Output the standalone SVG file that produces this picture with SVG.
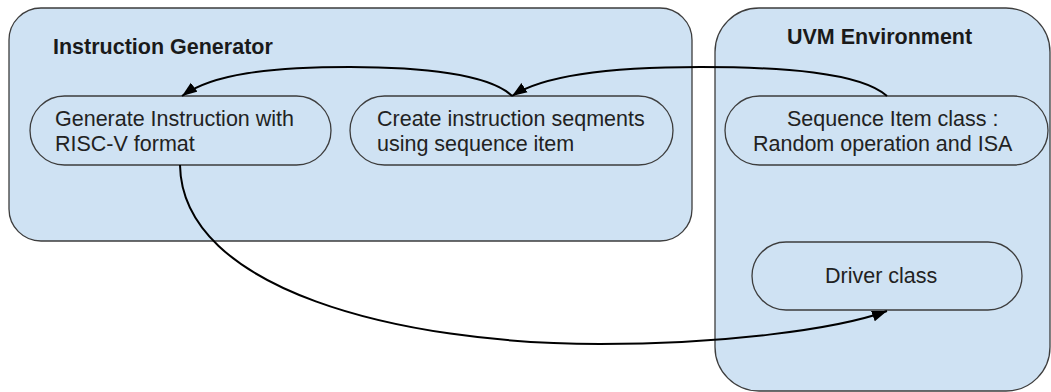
<svg xmlns="http://www.w3.org/2000/svg" width="1051" height="392" viewBox="0 0 1051 392">
  <style>
    .container { fill: #cfe2f3; stroke: #3d3d3d; stroke-width: 1.3; }
    .node { fill: #cfe2f3; stroke: #3d3d3d; stroke-width: 1.3; }
    .title { font-family: "Liberation Sans", Arial, sans-serif; font-size: 21.5px; font-weight: bold; fill: #1a1a1a; }
    .label { font-family: "Liberation Sans", Arial, sans-serif; font-size: 21.5px; fill: #222222; }
    .edge { fill: none; stroke: #000000; stroke-width: 2; }
  </style>
  <defs>
    <marker id="arrow" markerUnits="userSpaceOnUse" markerWidth="17" markerHeight="12" refX="15" refY="6" orient="auto">
      <path d="M0,0.5 L15,6 L0,11.5 Z" fill="#000000"/>
    </marker>
  </defs>
  <rect width="1051" height="392" fill="#ffffff"/>

  <!-- Containers -->
  <g id="instruction-generator">
    <rect class="container" x="9" y="8" width="683" height="233" rx="32" ry="32"/>
    <text class="title" x="53" y="54">Instruction Generator</text>
  </g>
  <g id="uvm-environment">
    <rect class="container" x="715" y="8" width="335" height="383" rx="44" ry="44"/>
    <text class="title" x="787" y="44">UVM Environment</text>
  </g>

  <!-- Nodes -->
  <g id="generate-instruction">
    <rect class="node" x="30" y="96" width="301" height="69" rx="34.5" ry="34.5"/>
    <text class="label" x="55" y="126">Generate Instruction with</text>
    <text class="label" x="55" y="151">RISC-V format</text>
  </g>
  <g id="create-segments">
    <rect class="node" x="350" y="96" width="323" height="69" rx="34.5" ry="34.5"/>
    <text class="label" x="377" y="126">Create instruction seqments</text>
    <text class="label" x="377" y="151">using sequence item</text>
  </g>
  <g id="sequence-item">
    <rect class="node" x="725" y="96" width="323" height="69" rx="34.5" ry="34.5"/>
    <text class="label" x="787" y="126">Sequence Item class :</text>
    <text class="label" x="753" y="151">Random operation and ISA</text>
  </g>
  <g id="driver-class">
    <rect class="node" x="752" y="242" width="270" height="68" rx="34" ry="34"/>
    <text class="label" x="825" y="283">Driver class</text>
  </g>

  <!-- Connectors -->
  <g id="connectors">
    <path class="edge" d="M887,96 C860,72 780,67 700,67 C620,67 545,74 512,96" marker-end="url(#arrow)"/>
    <path class="edge" d="M512,96 C490,74 420,67 350,67 C270,67 212,74 182,96" marker-end="url(#arrow)"/>
    <path class="edge" d="M180,165 C182,290 400,344 600,344 C720,344 835,330 887,311" marker-end="url(#arrow)"/>
  </g>
</svg>
